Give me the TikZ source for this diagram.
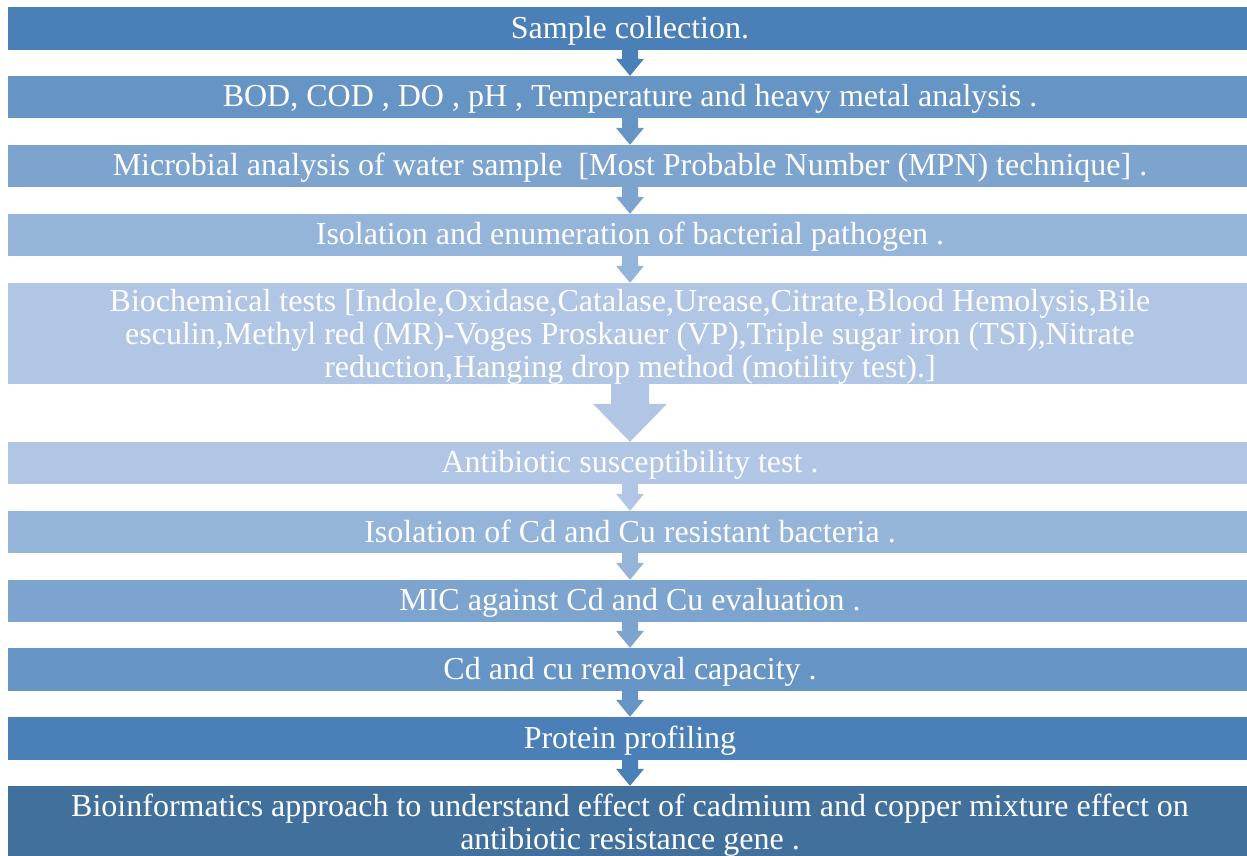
\documentclass[tikz,border=0pt]{standalone}
\usepackage{fontspec}
\setmainfont{Liberation Serif}
\usetikzlibrary{calc}
\definecolor{c1}{HTML}{4A80B7}
\definecolor{c2}{HTML}{6694C4}
\definecolor{c3}{HTML}{7DA3CF}
\definecolor{c4}{HTML}{95B4DA}
\definecolor{c5}{HTML}{B0C6E4}
\definecolor{c6}{HTML}{41709C}
\tikzset{
  stagebase/.style={rectangle, minimum width=1244, inner sep=0pt, text=white,
    font=\fontsize{32}{33}\selectfont},
  stage/.style={stagebase, execute at begin node={\rule{0pt}{26pt}},
    execute at end node={\rule[-5pt]{0pt}{5pt}}},
  tallstage/.style={stagebase},
}
\begin{document}
\begin{tikzpicture}[x=1pt, y=-1pt]
  \useasboundingbox (0,0) rectangle (1247,856);
  \clip (0,0) rectangle (1247,856);
  \node[stage, fill=c1, minimum height=43] (b1) at (630,28.5) {Sample collection.};
  \node[stage, fill=c2, minimum height=42] (b2) at (630,97) {BOD, COD , DO , pH , Temperature and heavy metal analysis .};
  \node[stage, fill=c3, minimum height=42] (b3) at (630,166) {Microbial analysis of water sample ~[Most Probable Number (MPN) technique] .};
  \node[stage, fill=c4, minimum height=42] (b4) at (630,235) {Isolation and enumeration of bacterial pathogen .};
  \node[tallstage, fill=c5, minimum height=101] (b5) at (630,333.5) {\rule{0pt}{10pt}\rule[-55pt]{0pt}{55pt}%
    \smash{\begin{tabular}[t]{@{}c@{}}
    Biochemical tests [Indole,Oxidase,Catalase,Urease,Citrate,Blood Hemolysis,Bile\\
    esculin,Methyl red (MR)-Voges Proskauer (VP),Triple sugar iron (TSI),Nitrate\\
    reduction,Hanging drop method (motility test).]\end{tabular}}};
  \node[stage, fill=c5, minimum height=42] (b6) at (630,463) {Antibiotic susceptibility test .};
  \node[stage, fill=c4, minimum height=42] (b7) at (630,532) {Isolation of Cd and Cu resistant bacteria .};
  \node[stage, fill=c3, minimum height=42] (b8) at (630,601) {MIC against Cd and Cu evaluation .};
  \node[stage, fill=c2, minimum height=43] (b9) at (630,669.5) {Cd and cu removal capacity .};
  \node[stage, fill=c1, minimum height=43] (b10) at (630,738.5) {Protein profiling};
  \node[tallstage, fill=c6, minimum height=70] (b11) at (630,821) {\rule{0pt}{10pt}\rule[-20pt]{0pt}{20pt}%
    \smash{\begin{tabular}[t]{@{}c@{}}
    Bioinformatics approach to understand effect of cadmium and copper mixture effect on\\
    antibiotic resistance gene .\end{tabular}}};
  % small block arrows
  \foreach \a/\b/\c in {b1/b2/c1, b2/b3/c2, b3/b4/c3, b4/b5/c4, b6/b7/c5,
                        b7/b8/c4, b8/b9/c3, b9/b10/c2, b10/b11/c1}
    \fill[\c] ($(\a.south)+(-8,0)$) -- ($(\a.south)+(8,0)$) -- ($(\b.north)+(8,-17)$)
      -- ($(\b.north)+(14,-17)$) -- (\b.north) -- ($(\b.north)+(-14,-17)$)
      -- ($(\b.north)+(-8,-17)$) -- cycle;
  % large arrow
  \fill[c5] ($(b5.south)+(-19,0)$) -- ($(b5.south)+(19,0)$) -- ($(b6.north)+(19,-38)$)
    -- ($(b6.north)+(37,-38)$) -- (b6.north) -- ($(b6.north)+(-37,-38)$)
    -- ($(b6.north)+(-19,-38)$) -- cycle;
\end{tikzpicture}
\end{document}
